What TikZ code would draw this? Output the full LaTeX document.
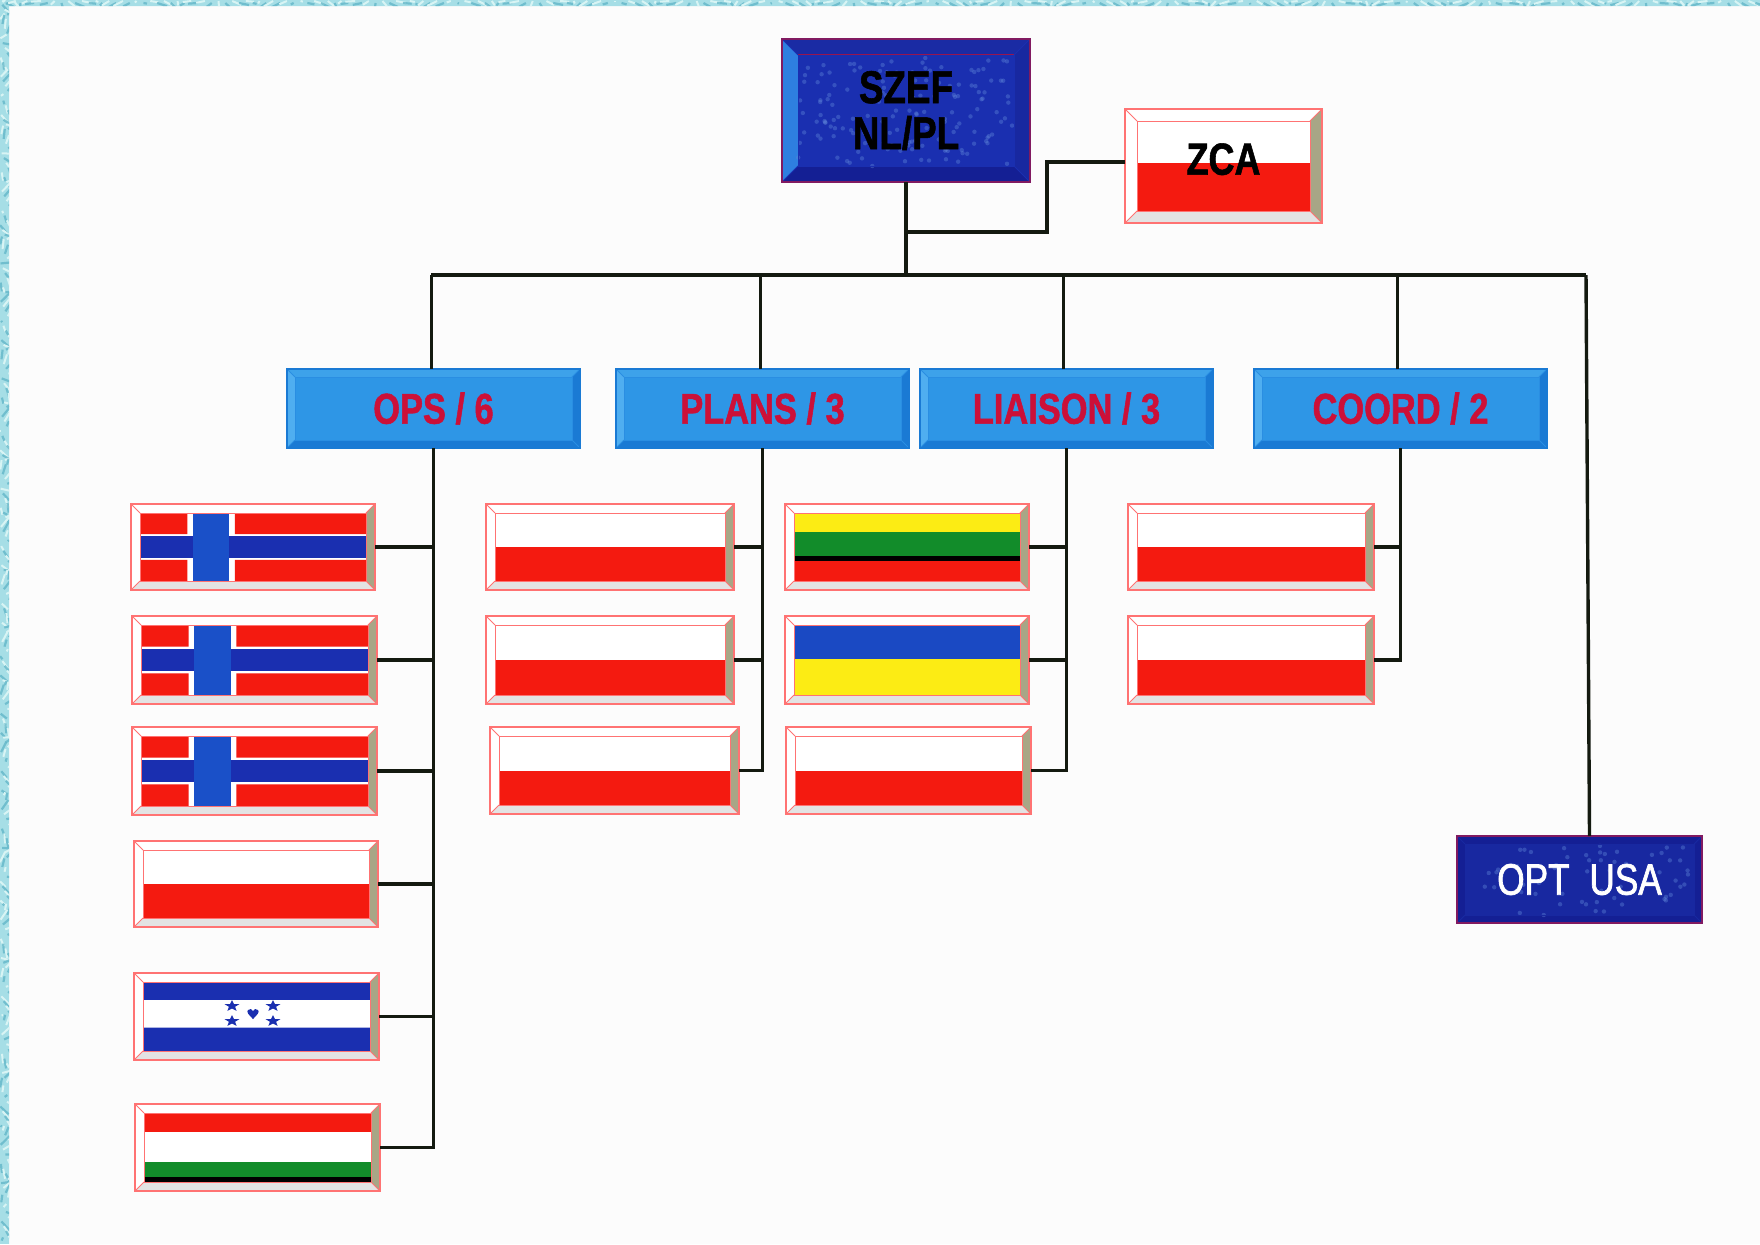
\documentclass[tikz,border=0pt]{standalone}
\usepackage{fontspec}
\usetikzlibrary{shapes.geometric}
\setmainfont{Liberation Sans}
\newfontfamily\condfont[FakeStretch=0.80,BoldFeatures={FakeBold=1.2}]{Liberation Sans}
\newfontfamily\condmed[FakeStretch=0.80,FakeBold=1.6]{Liberation Sans}
\definecolor{paper}{HTML}{FCFCFC}
\definecolor{marble}{HTML}{A6DEE6}
\definecolor{marbled}{HTML}{5FB4C6}
\definecolor{marblel}{HTML}{D8F4F4}
\definecolor{flagred}{HTML}{F41A10}
\definecolor{flagblue}{HTML}{1A2FB0}
\definecolor{crossblue}{HTML}{1A50C8}
\definecolor{flaggreen}{HTML}{128C2A}
\definecolor{flagyellow}{HTML}{FCEC14}
\definecolor{lineink}{HTML}{141A10}
\definecolor{redtext}{HTML}{CC1038}
\tikzset{
  link/.style={draw=lineink,line width=1.7pt},
  boxnode/.style={inner sep=0pt,outer sep=0pt,align=center,font=\condfont\bfseries},
  stafftext/.style={text=redtext,font=\condfont\bfseries\fontsize{21.5}{25}\selectfont},
  stardot/.style={star,star points=5,star point ratio=2.4,fill=flagblue,inner sep=0pt,minimum size=6pt,xscale=1.3}
}
% bevel settings: top,left,bottom,right,face,edge,inset
\newcommand{\setbev}[7]{%
  \colorlet{bevt}{#1}\colorlet{bevl}{#2}\colorlet{bevb}{#3}\colorlet{bevr}{#4}%
  \colorlet{bevf}{#5}\colorlet{beve}{#6}\def\bevin{#7}}
% name,x0,y0,x1,y1,node options,text,content in unit square
\newcommand{\bev}[8]{%
  \pgfmathsetmacro\bxa{#2+\bevin}\pgfmathsetmacro\bxb{#4-\bevin}%
  \pgfmathsetmacro\bya{#3+\bevin}\pgfmathsetmacro\byb{#5-\bevin}%
  \pgfmathsetmacro\bcx{(#2+#4)/2}\pgfmathsetmacro\bcy{(#3+#5)/2}%
  \pgfmathsetmacro\bw{(#4-#2)*0.5}\pgfmathsetmacro\bh{(#5-#3)*0.5}%
  \pgfmathsetmacro\biw{(\bxb-\bxa)*0.5}\pgfmathsetmacro\bih{(\byb-\bya)*0.5}%
  \fill[bevt] (#2,#3) -- (#4,#3) -- (\bxb,\bya) -- (\bxa,\bya) -- cycle;
  \fill[bevl] (#2,#3) -- (#2,#5) -- (\bxa,\byb) -- (\bxa,\bya) -- cycle;
  \fill[bevb] (#2,#5) -- (#4,#5) -- (\bxb,\byb) -- (\bxa,\byb) -- cycle;
  \fill[bevr] (#4,#3) -- (#4,#5) -- (\bxb,\byb) -- (\bxb,\bya) -- cycle;
  \fill[bevf] (\bxa,\bya) rectangle (\bxb,\byb);
  \begin{scope}[shift={(\bxa,\bya)},x=\biw pt,y=-\bih pt]
    #8
  \end{scope}
  \draw[beve,line width=.5pt] (\bxa,\bya) rectangle (\bxb,\byb);
  \draw[beve,line width=.5pt] (#2,#3) -- (\bxa,\bya) (#4,#3) -- (\bxb,\bya)
     (#2,#5) -- (\bxa,\byb) (#4,#5) -- (\bxb,\byb);
  \node[boxnode,draw=beve,line width=.8pt,minimum width=\bw pt,minimum height=\bh pt,#6] (#1) at (\bcx,\bcy) {#7};
}
\newcommand{\polish}{\fill[flagred] (0,.5) rectangle (1,1);}
\newcommand{\nordic}{%
  \fill[flagred] (0,0) rectangle (.21,.31) (.42,0) rectangle (1,.31)
                 (0,.69) rectangle (.21,1) (.42,.69) rectangle (1,1);
  \fill[flagblue] (0,.34) rectangle (1,.66);
  \fill[crossblue] (.235,0) rectangle (.395,1);}
\newcommand{\speck}[1]{%
  \foreach \i in {1,...,#1}{%
    \pgfmathsetmacro\spx{mod(abs(sin(\i*37.5))*91.7+\i*0.137,1)}%
    \pgfmathsetmacro\spy{mod(abs(cos(\i*71.3))*53.9+\i*0.291,1)}%
    \fill[crossblue!70!white,opacity=.4] (\spx,\spy) circle (1.1pt);}}
\begin{document}
\begin{tikzpicture}[x=.5pt,y=-.5pt]
\useasboundingbox (0,0) rectangle (1760,1244);
\fill[paper] (0,0) rectangle (1760,1244);
% marbled page border
\begin{scope}
  \clip (0,0) rectangle (9,1244) (0,0) rectangle (1760,6);
  \fill[marble] (0,0) rectangle (1760,1244);
  \foreach \i in {1,...,260}{
    \pgfmathsetmacro\ya{mod(\i*4.79,1244)}
    \pgfmathsetmacro\xa{mod(\i*2.3,9)}
    \pgfmathsetmacro\dx{5+4*sin(\i*47)}
    \pgfmathsetmacro\dy{10*cos(\i*31)}
    \pgfmathsetmacro\xb{mod(\i*6.83,1760)}
    \ifodd\i
      \draw[marbled,line width=1.1pt,opacity=.75] (\xa,\ya) -- ++(\dx,\dy);
      \draw[marbled,line width=1.1pt,opacity=.75] (\xb,3) -- ++(\dy,\dx*.6);
    \else
      \draw[marblel,line width=1pt] (\xa,\ya) -- ++(\dx,\dy);
      \draw[marblel,line width=1pt] (\xb,1) -- ++(\dy,\dx*.6);
    \fi
  }
\end{scope}

% command boxes
\definecolor{fa1}{HTML}{1A2BA4}\definecolor{fa2}{HTML}{2E7FE0}\definecolor{fa3}{HTML}{141F94}\definecolor{fa4}{HTML}{1828A0}
\setbev{fa1}{fa2}{fa3}{fa4}{flagblue}{flagblue}{16}
\bev{szef}{782}{39}{1030}{182}{draw=red!45!flagblue,text=black,font=\condfont\bfseries\fontsize{23}{23}\selectfont}{\raisebox{-1pt}{SZEF}\\\raisebox{-1pt}{NL/PL}}{\speck{150}\draw[red!55!flagblue,line width=.6pt] (0,0) -- (1,0);}
\setbev{fa3}{fa3}{fa3}{fa3}{fa4}{fa4}{8}
\bev{opt}{1457}{836}{1702}{923}{draw=red!45!flagblue,text=white,font=\condmed\fontsize{22}{26}\selectfont}{OPT\hspace{.45em}USA}{\speck{60}\draw[red!55!flagblue,line width=.5pt] (0,0) -- (1,0);}

% flag bevel colours
\setbev{white}{white}{black!10!paper}{white}{white}{red!55!white}{12}
\definecolor{bevr}{HTML}{A8A686}
\bev{zca}{1125}{109}{1322}{223}{text=black,font=\condfont\bfseries\fontsize{22.5}{26}\selectfont}{\raisebox{7pt}{ZCA}}{\fill[flagred] (0,.47) rectangle (1,1);}

% staff boxes
\definecolor{st1}{HTML}{2E96E6}\definecolor{st2}{HTML}{3DA2EA}\definecolor{st3}{HTML}{4FAEF0}\definecolor{st4}{HTML}{1A7AD4}\definecolor{st5}{HTML}{2A8EE2}
\setbev{st2}{st3}{st4}{st4}{st1}{st5}{8}
\bev{ops}{287}{369}{580}{448}{draw=st4,stafftext}{OPS / 6}{}
\bev{plans}{616}{369}{909}{448}{draw=st4,stafftext}{PLANS / 3}{}
\bev{liaison}{920}{369}{1213}{448}{draw=st4,stafftext}{LIAISON / 3}{}
\bev{coord}{1254}{369}{1547}{448}{draw=st4,stafftext}{COORD / 2}{}

% flags
\setbev{white}{white}{black!10!paper}{white}{white}{red!55!white}{9}
\definecolor{bevr}{HTML}{A8A686}
\bev{fa}{131}{504}{375}{590}{}{}{\nordic}
\bev{fb}{132}{616}{377}{704}{}{}{\nordic}
\bev{fc}{132}{727}{377}{815}{}{}{\nordic}
\bev{fd}{134}{841}{378}{927}{}{}{\polish}
\bev{fe}{134}{973}{379}{1060}{}{}{%
  \fill[flagblue] (0,0) rectangle (1,.26) (0,.66) rectangle (1,1);}
\bev{ff}{135}{1104}{380}{1191}{}{}{%
  \fill[flagred] (0,0) rectangle (1,.27);
  \fill[flaggreen] (0,.71) rectangle (1,.92);
  \fill[black] (0,.92) rectangle (1,1);}
\bev{pa}{486}{504}{734}{590}{}{}{\polish}
\bev{pb}{486}{616}{734}{704}{}{}{\polish}
\bev{pc}{490}{727}{739}{814}{}{}{\polish}
\bev{la}{785}{504}{1029}{590}{}{}{%
  \fill[flagyellow] (0,0) rectangle (1,.28);
  \fill[flaggreen] (0,.28) rectangle (1,.63);
  \fill[black] (0,.63) rectangle (1,.71);
  \fill[flagred] (0,.71) rectangle (1,1);}
\bev{lb}{785}{616}{1029}{704}{}{}{%
  \fill[crossblue!80!flagblue] (0,0) rectangle (1,.49);
  \fill[flagyellow] (0,.49) rectangle (1,1);}
\bev{lc}{786}{727}{1031}{814}{}{}{\polish}
\bev{ca}{1128}{504}{1374}{590}{}{}{\polish}
\bev{cb}{1128}{616}{1374}{704}{}{}{\polish}

% Honduras stars and heart
\node[stardot] (s1) at (232,1006) {};
\node[stardot] (s2) at (273,1006) {};
\node[stardot] (s3) at (232,1021) {};
\node[stardot] (s4) at (273,1021) {};
\fill[flagblue] (253,1019) .. controls (249,1015) and (246,1012) .. (248,1010)
   .. controls (250,1008) and (252,1009) .. (253,1011)
   .. controls (254,1009) and (256,1008) .. (258,1010)
   .. controls (260,1012) and (257,1015) .. (253,1019) -- cycle;

% connectors
\coordinate (busleft) at (431,275);
\coordinate (busright) at (1586,275);
\coordinate (kink) at (1047,232);
\draw[link] (busleft) -- (busright);
\draw[link] (szef.south) -- (szef.south |- busleft);
\draw[link] ([yshift=2pt]zca.west) -| (kink) -- (kink -| szef.south);
\draw[link] ([xshift=-1pt]ops.north) -- ([xshift=-1pt]ops.north |- busleft);
\draw[link] ([xshift=-1pt]plans.north) -- ([xshift=-1pt]plans.north |- busleft);
\draw[link] ([xshift=-1.5pt]liaison.north) -- ([xshift=-1.5pt]liaison.north |- busleft);
\draw[link] ([xshift=-1.5pt]coord.north) -- ([xshift=-1.5pt]coord.north |- busleft);
\draw[link] (busright) -- ([xshift=5pt]opt.north);
% OPS
\draw[link] (ff.east) -| (ops.south);
\foreach \f in {fa,fb,fc,fd,fe}{\draw[link] (\f.east) -- (\f.east -| ops.south);}
% PLANS
\draw[link] (pc.east) -| (plans.south);
\foreach \f in {pa,pb}{\draw[link] (\f.east) -- (\f.east -| plans.south);}
% LIAISON
\draw[link] (lc.east) -| (liaison.south);
\foreach \f in {la,lb}{\draw[link] (\f.east) -- (\f.east -| liaison.south);}
% COORD
\draw[link] (cb.east) -| (coord.south);
\draw[link] (ca.east) -- (ca.east -| coord.south);
\end{tikzpicture}
\end{document}
